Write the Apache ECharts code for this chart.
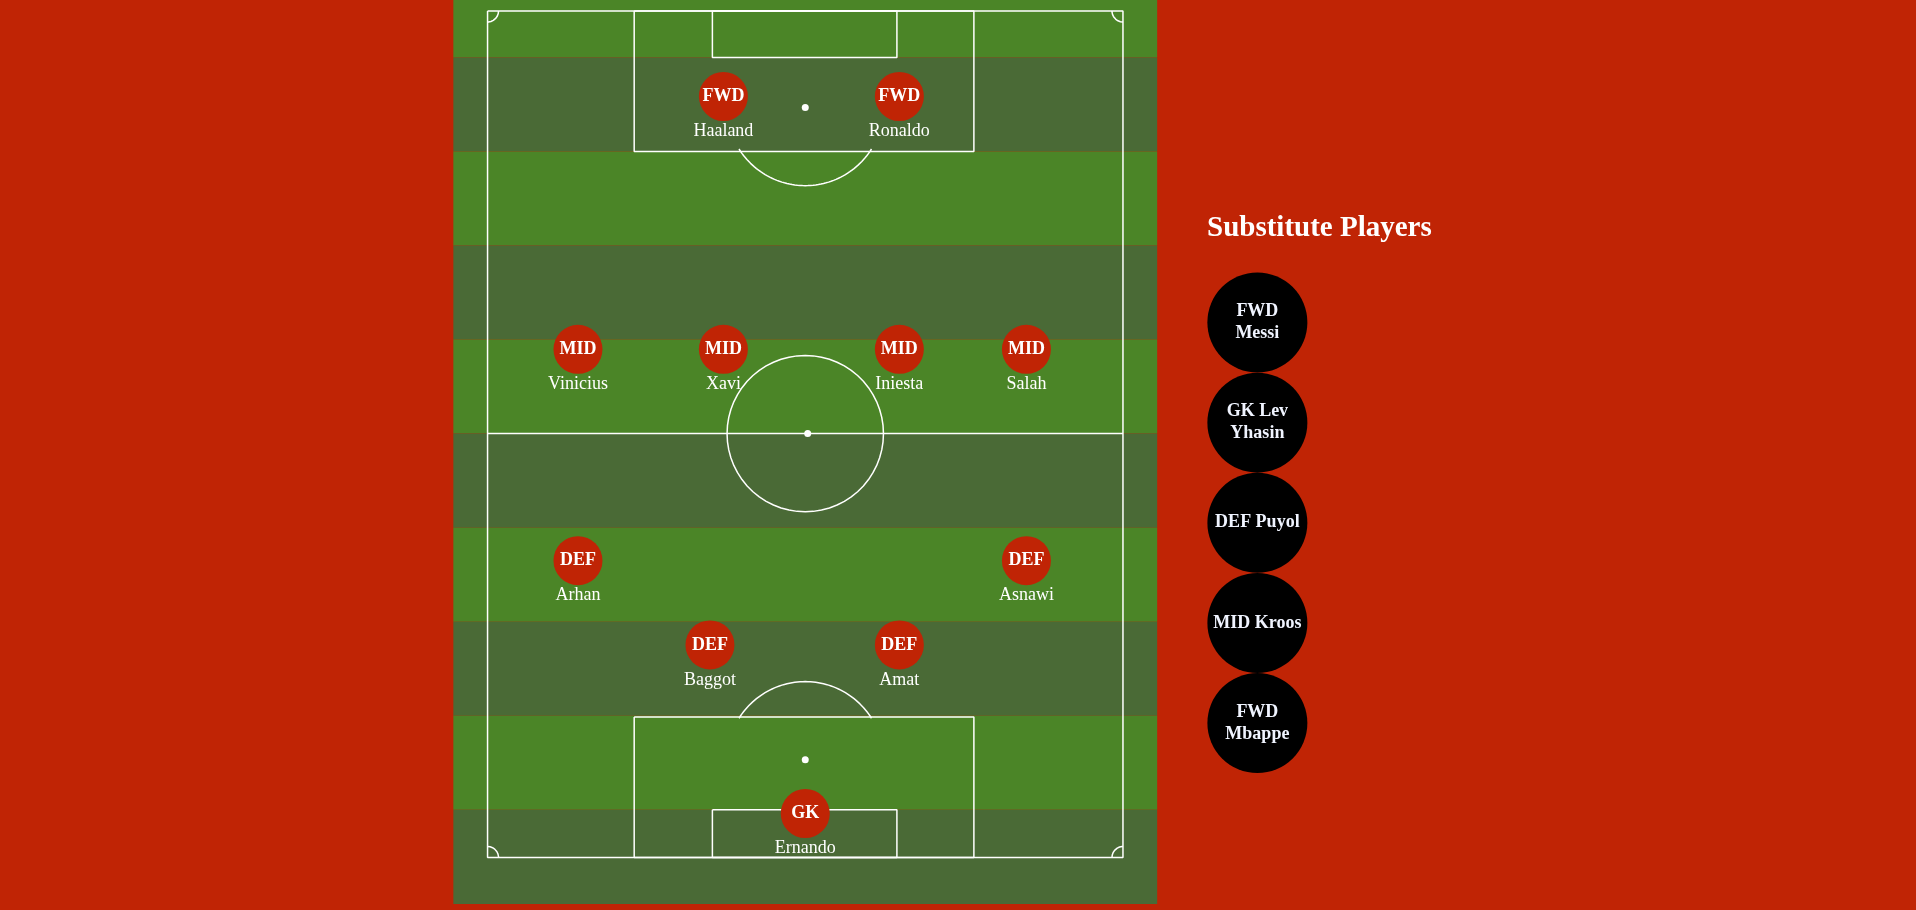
<!DOCTYPE html>
<html>
<head>
<meta charset="utf-8">
<script src="https://cdn.jsdelivr.net/npm/echarts@6/dist/echarts.min.js"></script>
<style>html,body{margin:0;padding:0;background:#c02405;overflow:hidden}#chart{width:1916px;height:910px}</style>
</head>
<body>
<div id="chart"></div>
<script>
// page coordinates (reference layout units, 1568 x 745)
var playerNames = ['Haaland','Ronaldo','Vinicius','Xavi','Iniesta','Salah','Arhan','Asnawi','Baggot','Amat','Ernando'];
var playerRoles = ['FWD','FWD','MID','MID','MID','MID','DEF','DEF','DEF','DEF','GK'];
var playerX = [592,736,473,592,736,840,473,840,581,736,659];
var playerY = [79,79,286,286,286,286,459,459,528,528,666];

var subLabels = ['FWD\nMessi','GK Lev\nYhasin','DEF Puyol','MID Kroos','FWD\nMbappe'];
var subX = [1029,1029,1029,1029,1029];
var subY = [264,346,428,510,592];

var stripeEdges = [0,47,124,201,278,355,432,509,586,663,740];

var chart = echarts.init(document.getElementById('chart'));
var serif = 'Liberation Serif';

// pitch lines
function circle(cx, cy, r, a0, a1) {
  var pts = [];
  for (var i = 0; i <= 60; i++) {
    var a = a0 + (a1 - a0) * i / 60;
    pts.push([cx + r * Math.cos(a), cy + r * Math.sin(a)]);
  }
  return pts;
}
function rect(x0, y0, x1, y1) { return [[x0,y0],[x1,y0],[x1,y1],[x0,y1],[x0,y0]]; }
var shapes = [
  rect(399, 9, 919, 702),
  [[399,355],[919,355]],
  circle(659, 355, 64, 0, Math.PI * 2),
  rect(519, 9, 797, 124),
  rect(583, 9, 734, 47),
  rect(519, 587, 797, 702),
  rect(583, 663, 734, 702),
  circle(659, 88, 64, 0.56, Math.PI - 0.56),
  circle(659, 622, 64, Math.PI + 0.56, 2 * Math.PI - 0.56),
  circle(399, 9, 9, 0, Math.PI / 2),
  circle(919, 9, 9, Math.PI / 2, Math.PI),
  circle(399, 702, 9, -Math.PI / 2, 0),
  circle(919, 702, 9, Math.PI, Math.PI * 1.5)
];
var lineSeries = shapes.map(function (s) {
  return { type: 'line', data: s, symbol: 'none', silent: true, z: 3,
    lineStyle: { color: '#ffffff', width: 1.5 } };
});

var stripes = [];
for (var i = 0; i < stripeEdges.length - 1; i++) {
  stripes.push([{ xAxis: 371, yAxis: stripeEdges[i],
    itemStyle: { color: i % 2 === 0 ? '#4b8527' : '#4a6a36', opacity: 1 } },
    { xAxis: 947, yAxis: stripeEdges[i + 1] }]);
}

var players = playerX.map(function (x, i) { return [x, playerY[i], playerRoles[i], playerNames[i]]; });
var subs = subX.map(function (x, i) { return [x, subY[i], subLabels[i]]; });

var option = {
  backgroundColor: '#c02405',
  animation: false,
  grid: { left: 0, top: 0, right: 0, bottom: 0 },
  xAxis: { type: 'value', min: 0, max: 1568, show: false },
  yAxis: { type: 'value', min: 0, max: 745, inverse: true, show: false },
  graphic: [{ type: 'text', left: 1207, top: 214,
    style: { text: 'Substitute Players', fill: '#fff', font: 'bold 29px "Liberation Serif"' } }],
  series: [
    { type: 'line', data: [], silent: true, z: 1,
      markArea: { silent: true, data: stripes } }
  ].concat(lineSeries).concat([
    { type: 'scatter', data: [[661,355],[659,88],[659,622]], symbolSize: 7, z: 4, silent: true,
      itemStyle: { color: '#fff', opacity: 1 } },
    { type: 'scatter', data: players, symbolSize: 49, z: 5, silent: true,
      itemStyle: { color: '#c02405', opacity: 1 },
      label: { show: true, position: 'inside', formatter: function (p) { return p.data[2]; },
        color: '#fff', opacity: 1, fontFamily: serif, fontWeight: 'bold', fontSize: 18 } },
    { type: 'scatter', data: players, symbolSize: 1, z: 6, silent: true,
      itemStyle: { opacity: 0 },
      label: { show: true, position: 'inside', offset: [0, 35], formatter: function (p) { return p.data[3]; },
        color: '#fff', opacity: 1, fontFamily: serif, fontSize: 18 } },
    { type: 'scatter', data: subs, symbolSize: 100, z: 5, silent: true,
      itemStyle: { color: '#000', opacity: 1 },
      label: { show: true, position: 'inside', formatter: function (p) { return p.data[2]; },
        color: '#f0f4ff', opacity: 1, fontFamily: serif, fontWeight: 'bold', fontSize: 18, lineHeight: 22 } }
  ])
};
chart.setOption(option);
</script>
</body>
</html>
